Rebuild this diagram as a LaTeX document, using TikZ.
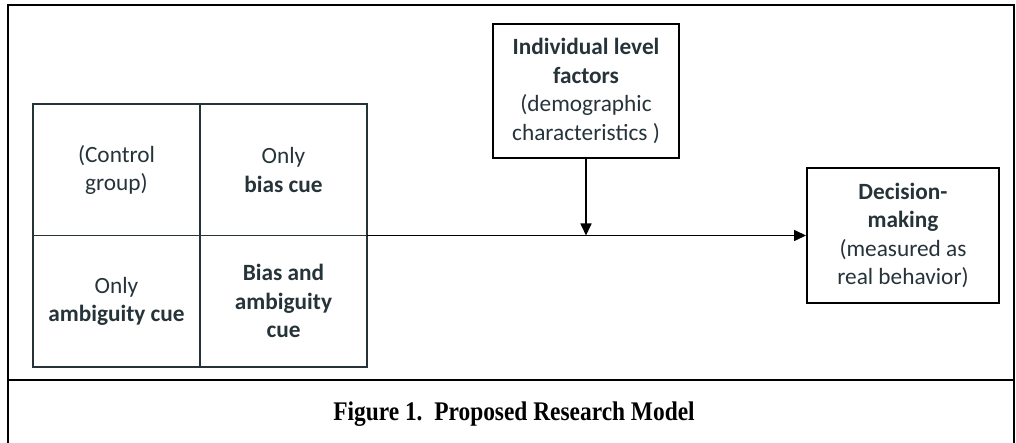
\documentclass[tikz,border=0pt]{standalone}
\usepackage{fontspec}
\setmainfont{Carlito}
\newfontfamily\capfont{Liberation Serif}
\usetikzlibrary{arrows.meta}
\definecolor{slate}{RGB}{38,52,58}

\begin{document}
\begin{tikzpicture}[
            x=1pt, y=-1pt,
            cell/.style={draw=slate, line width=1.5pt, minimum width=167pt, minimum height=131.5pt, inner sep=0pt, outer sep=0pt, align=center, text=slate, font=\fontsize{23.3}{28.5}\selectfont},
            factor/.style={draw=black, line width=2pt, inner sep=0pt, align=center, text=slate, font=\fontsize{23.3}{28.5}\selectfont},
            link/.style={line width=1.6pt, -{Triangle[length=12pt,width=11pt]}}
        ]

        \useasboundingbox (0,0) rectangle (1016,443);

        % outer frame
        \draw[line width=2pt] (8,443) -- (8,5) -- (1014,5) -- (1014,443);
        \draw[line width=2pt] (8,380) -- (1014,380);

        % the four groups
        \node[cell, anchor=north west] (ctrl) at (33,104) {(Control\\group)};
        \node[cell, anchor=north west] (bias) at (200,104) {Only\\\textbf{bias cue}};
        \node[cell, anchor=north west] (ambig) at (33,235.5) {Only\\\textbf{ambiguity cue}};
        \node[cell, anchor=north west] (both) at (200,235.5) {\textbf{Bias and}\\\textbf{ambiguity}\\\textbf{cue}};

        \node[factor, minimum width=186pt, minimum height=134pt] (indiv) at (586,91)
            {\textbf{Individual level}\\\textbf{factors}\\(demographic\\characteristics )};
        \node[factor, minimum width=192pt, minimum height=135pt] (dec) at (903,235.5)
            {\textbf{Decision-}\\\textbf{making}\\(measured as\\real behavior)};

        \coordinate (join) at (indiv.south |- dec.west);
        \draw[link] (bias.south east) -- (dec.west);
        \draw[link] (indiv.south) -- (join);

        \node[font=\capfont\bfseries\fontsize{23.4}{28}\selectfont] (cap) at (514,414)
            {\scalebox{1}[1.15]{Figure 1.\ \ Proposed Research Model}};

        \end{tikzpicture}
\end{document}
